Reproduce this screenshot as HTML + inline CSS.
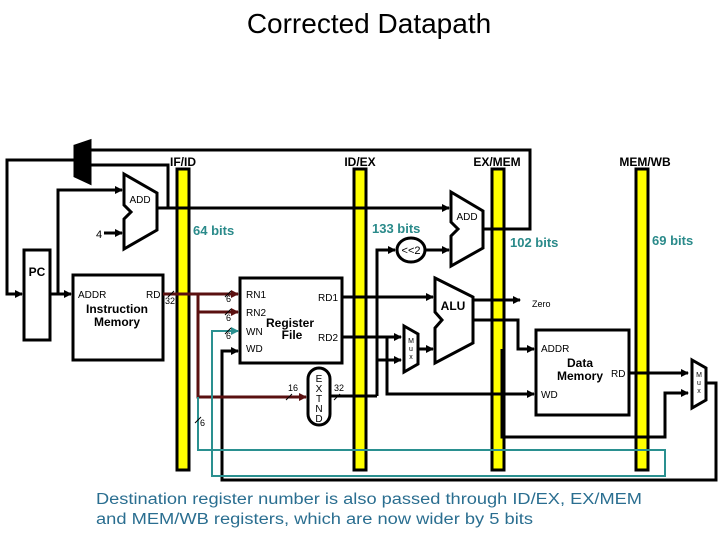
<!DOCTYPE html>
<html><head><meta charset="utf-8"><style>
html,body{margin:0;padding:0;background:#fff;width:720px;height:540px;overflow:hidden}
svg{display:block}
text{font-family:"Liberation Sans",sans-serif}
</style></head><body>
<svg width="720" height="540" viewBox="0 0 720 540" xmlns="http://www.w3.org/2000/svg">
<defs>
<marker id="a" markerWidth="8" markerHeight="8" refX="7" refY="4" orient="auto" markerUnits="userSpaceOnUse"><path d="M0,0 L8,4 L0,8 z" fill="#000"/></marker>
<marker id="b" markerWidth="8" markerHeight="8" refX="7" refY="4" orient="auto" markerUnits="userSpaceOnUse"><path d="M0,0 L8,4 L0,8 z" fill="#5a1010"/></marker>
<marker id="t" markerWidth="8" markerHeight="8" refX="7" refY="4" orient="auto" markerUnits="userSpaceOnUse"><path d="M0,0 L8,4 L0,8 z" fill="#2a9090"/></marker>
</defs>
<text x="369" y="33" font-size="28" text-anchor="middle">Corrected Datapath</text>

<g stroke="#000" stroke-width="3" fill="#ffff00">
<rect x="177" y="169" width="12" height="301"/>
<rect x="354" y="169" width="12" height="301"/>
<rect x="492" y="169" width="12" height="301"/>
<rect x="636" y="169" width="12" height="301"/>
</g>
<g font-size="12" font-weight="bold" text-anchor="middle">
<text x="183" y="166">IF/ID</text><text x="360" y="166">ID/EX</text>
<text x="497" y="166">EX/MEM</text><text x="645" y="166">MEM/WB</text>
</g>
<g fill="#2a8a8a" font-size="13" font-weight="bold">
<text x="193" y="235">64 bits</text><text x="372" y="233">133 bits</text>
<text x="510" y="247">102 bits</text><text x="652" y="245">69 bits</text>
</g>

<g stroke="#000" stroke-width="3" fill="none">
<path d="M75,146 L90,141 L90,183 L75,176 Z" fill="#000"/>
<polyline points="90,150 530,150 530,229 483,229"/>
<polyline points="168,208 168,165 90,165"/>
<polyline points="75,160 7,160 7,294 22,294" marker-end="url(#a)"/>
<rect x="24" y="250" width="26" height="90" fill="#fff"/>
<line x1="50" y1="294" x2="71" y2="294" marker-end="url(#a)"/>
<polyline points="58,294 58,190 122,190" marker-end="url(#a)"/>
<line x1="104" y1="233" x2="122" y2="233" marker-end="url(#a)"/>
<rect x="73" y="275" width="90" height="85" fill="#fff"/>
<path d="M124,174 L157,193 L157,230 L124,249 L124,219 L131,212 L124,205 Z" fill="#fff"/>
<line x1="157" y1="208" x2="449" y2="208" marker-end="url(#a)"/>
<path d="M451,192 L483,211 L483,248 L451,266 L451,236 L458,229 L451,222 Z" fill="#fff"/>
<ellipse cx="411" cy="250" rx="14" ry="12" fill="#fff"/>
<line x1="425" y1="250" x2="449" y2="250" marker-end="url(#a)"/>
<polyline points="377,396 377,250 395,250" marker-end="url(#a)"/>
<line x1="377" y1="360" x2="401" y2="360" marker-end="url(#a)"/>
<rect x="240" y="278" width="102" height="85" fill="#fff"/>
<line x1="342" y1="297" x2="433" y2="297" marker-end="url(#a)"/>
<line x1="342" y1="337" x2="401" y2="337" marker-end="url(#a)"/>
<polyline points="387,337 387,394 534,394" marker-end="url(#a)"/>
<polyline points="330,396 377,396"/>
<path d="M404,326 L418,334 L418,364 L404,372 Z" fill="#fff"/>
<line x1="418" y1="349" x2="433" y2="349" marker-end="url(#a)"/>
<path d="M435,278 L473,297 L473,343 L435,363 L435,328 L442,320 L435,312 Z" fill="#fff"/>
<line x1="473" y1="300" x2="520" y2="300" marker-end="url(#a)"/>
<polyline points="473,320 518,320 518,349 534,349" marker-end="url(#a)"/>
<polyline points="502,349 502,437 665,437 665,393 688,393" marker-end="url(#a)"/>
<rect x="536" y="330" width="93" height="85" fill="#fff"/>
<line x1="629" y1="373" x2="688" y2="373" marker-end="url(#a)"/>
<path d="M692,360 L706,368 L706,400 L692,408 Z" fill="#fff"/>
<polyline points="706,383 716,383 716,480 222,480 222,351 238,351" marker-end="url(#a)"/>
<rect x="308" y="368" width="22" height="57" rx="11" fill="#fff"/>
</g>
<g stroke="#5a1010" stroke-width="3" fill="none">
<line x1="163" y1="294" x2="238" y2="294" marker-end="url(#b)"/>
<line x1="198" y1="312" x2="238" y2="312" marker-end="url(#b)"/>
<polyline points="198,294 198,397 306,397" marker-end="url(#b)"/>
</g>
<g stroke="#2a9090" stroke-width="2" fill="none">
<polyline points="198,397 198,450 665,450 665,476 212,476 212,331 238,331" marker-end="url(#t)"/>
</g>
<g stroke="#000" stroke-width="1">
<line x1="168" y1="297" x2="174" y2="291"/><line x1="225" y1="297" x2="231" y2="291"/>
<line x1="225" y1="315" x2="231" y2="309"/><line x1="225" y1="334" x2="231" y2="328"/>
<line x1="286" y1="400" x2="292" y2="394"/><line x1="334" y1="400" x2="340" y2="394"/>
<line x1="195" y1="423" x2="201" y2="417"/>
</g>
<g font-size="9">
<text x="165" y="304">32</text><text x="226" y="302">6</text><text x="226" y="321">6</text>
<text x="226" y="339">6</text><text x="288" y="391">16</text><text x="334" y="391">32</text>
<text x="200" y="426">6</text>
<text x="96" y="238" font-size="11">4</text>
<text x="140" y="203" text-anchor="middle" font-size="10">ADD</text>
<text x="467" y="220" text-anchor="middle" font-size="10">ADD</text>
<text x="411" y="254" text-anchor="middle" font-size="11">&lt;&lt;2</text>
<text x="78" y="298" font-size="10">ADDR</text><text x="146" y="298" font-size="10">RD</text>
<text x="246" y="298" font-size="10">RN1</text><text x="246" y="316" font-size="10">RN2</text>
<text x="246" y="335" font-size="10">WN</text><text x="246" y="352" font-size="10">WD</text>
<text x="318" y="301" font-size="10">RD1</text><text x="318" y="341" font-size="10">RD2</text>
<text x="532" y="307">Zero</text>
<text x="541" y="352" font-size="10">ADDR</text><text x="541" y="398" font-size="10">WD</text>
<text x="611" y="377" font-size="10">RD</text>
<text x="411" y="343" font-size="7" text-anchor="middle">M</text><text x="411" y="351" font-size="7" text-anchor="middle">u</text><text x="411" y="359" font-size="7" text-anchor="middle">x</text>
<text x="699" y="377" font-size="7" text-anchor="middle">M</text><text x="699" y="385" font-size="7" text-anchor="middle">u</text><text x="699" y="393" font-size="7" text-anchor="middle">x</text>
</g>
<g font-size="10" text-anchor="middle">
<text x="319" y="382">E</text><text x="319" y="392">X</text><text x="319" y="402">T</text><text x="319" y="412">N</text><text x="319" y="422">D</text>
</g>
<g font-size="12" font-weight="bold" text-anchor="middle">
<text x="37" y="276">PC</text>
<text x="117" y="313">Instruction</text><text x="117" y="326">Memory</text>
<text x="290" y="327">Register</text><text x="292" y="339">File</text>
<text x="453" y="310">ALU</text>
<text x="580" y="367">Data</text><text x="580" y="380">Memory</text>
</g>
<g fill="#2a6e90" font-size="15.5" style="font-family:'DejaVu Sans',sans-serif">
<text x="96" y="504" textLength="546" lengthAdjust="spacingAndGlyphs">Destination register number is also passed through ID/EX, EX/MEM</text>
<text x="96" y="524" textLength="437" lengthAdjust="spacingAndGlyphs">and MEM/WB registers, which are now wider by 5 bits</text>
</g>
</svg>
</body></html>
